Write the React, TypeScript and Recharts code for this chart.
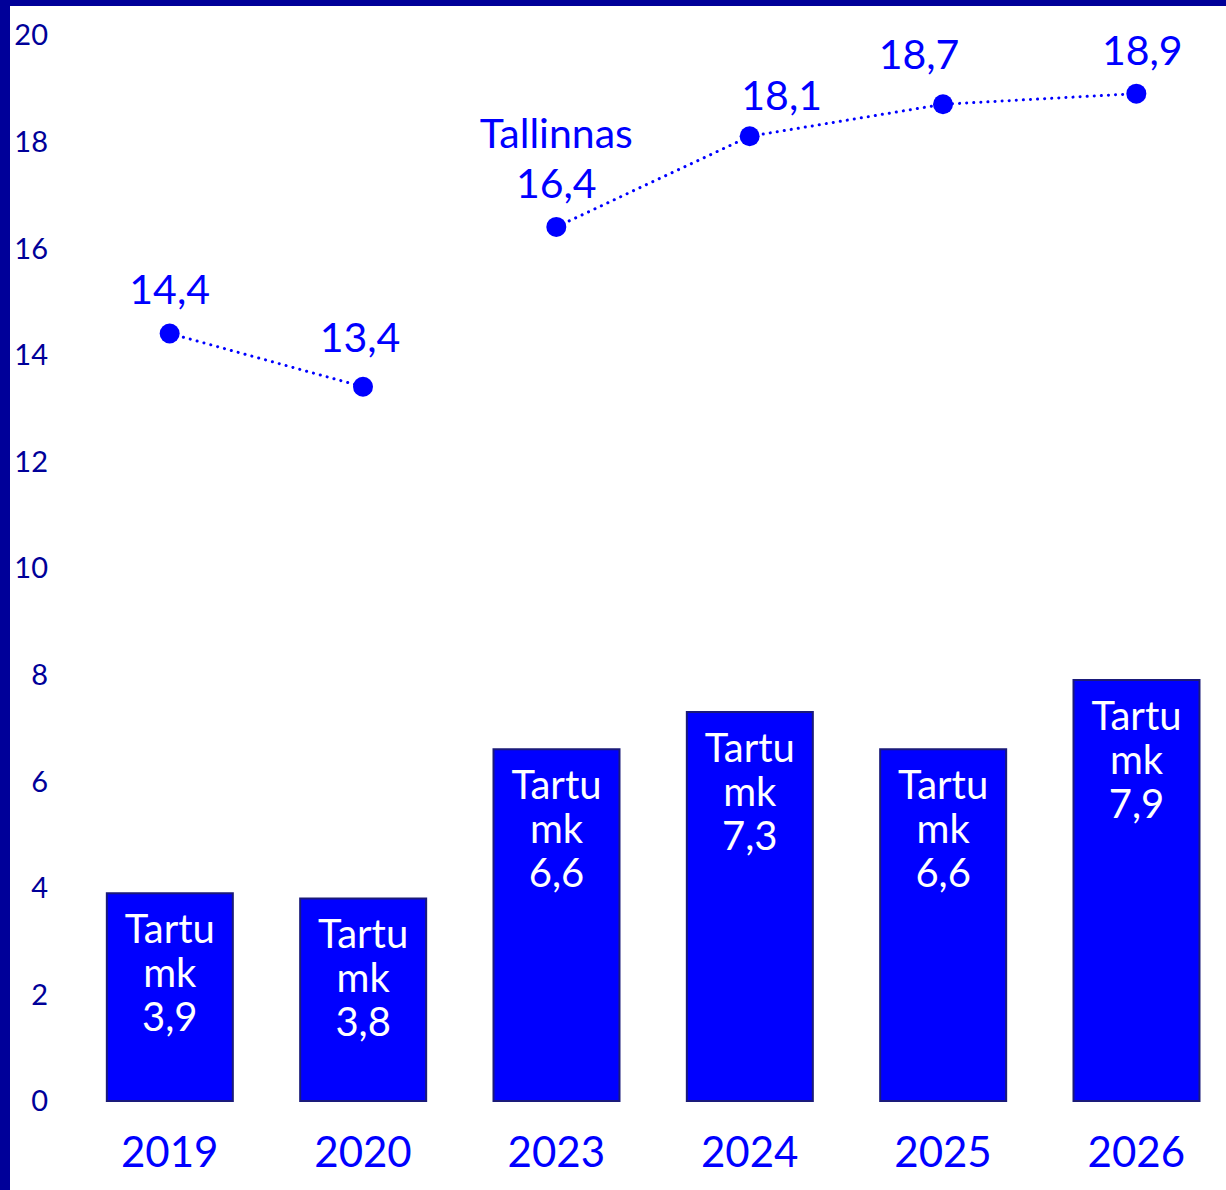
import { Bar, ComposedChart, LabelList, Line, XAxis, YAxis } from "recharts";

// Tartu (bars) vs Tallinn (dotted line), 2021–2022 missing so the line breaks
const years = ["2019", "2020", "2023", "2024", "2025", "2026"];
const tartu = [3.9, 3.8, 6.6, 7.3, 6.6, 7.9];
const tallinnEarly = [14.4, 13.4, null, null, null, null];
const tallinnLate = [null, null, 16.4, 18.1, 18.7, 18.9];
const yTicks = [0, 2, 4, 6, 8, 10, 12, 14, 16, 18, 20];

const data = years.map((year, i) => ({
  year,
  tartu: tartu[i],
  tallinnA: tallinnEarly[i],
  tallinnB: tallinnLate[i],
}));

const NAVY = "#000099";
const BLUE = "#0000ff";
const FONT = "Lato, 'Open Sans', sans-serif";

// hand nudges for the line labels, same order as years
const LABEL_NUDGE = [
  { dx: 0, dy: -29 },
  { dx: -3, dy: -35 },
  { dx: 0, dy: -29 },
  { dx: 32, dy: -26 },
  { dx: -24, dy: -35 },
  { dx: 6, dy: -29 },
];

const fmt = (v: number) => String(v).replace(".", ",");

function YTick({ x, y, payload }: any) {
  return (
    <text x={x} y={y} dy="0.36em" textAnchor="end" fill={NAVY} fontSize={29} fontFamily={FONT}>
      {payload.value}
    </text>
  );
}

function XTick({ x, y, payload }: any) {
  return (
    <text x={x} y={y + 66} textAnchor="middle" fill={BLUE} fontSize={42} fontFamily={FONT}>
      {payload.value}
    </text>
  );
}

function BarText({ x, y, width, value }: any) {
  if (value == null) return null;
  const cx = x + width / 2;
  return (
    <text textAnchor="middle" fill="#ffffff" fontSize={40} fontFamily={FONT}>
      <tspan x={cx} y={y + 50}>Tartu</tspan>
      <tspan x={cx} y={y + 94}>mk</tspan>
      <tspan x={cx} y={y + 138}>{fmt(value)}</tspan>
    </text>
  );
}

function LineText({ x, y, value, index }: any) {
  if (value == null) return null;
  const n = LABEL_NUDGE[index] ?? { dx: 0, dy: -30 };
  const cx = x + n.dx;
  return (
    <text textAnchor="middle" fill={BLUE} fontSize={41} fontFamily={FONT}>
      {years[index] === "2023" && (
        <tspan x={cx} y={y + n.dy - 50}>Tallinnas</tspan>
      )}
      <tspan x={cx} y={y + n.dy}>{fmt(value)}</tspan>
    </text>
  );
}

const dotStyle = { r: 10, fill: BLUE, stroke: BLUE, strokeWidth: 0 };

export default function App() {
  return (
    <div
      style={{
        position: "absolute",
        left: 0,
        top: 0,
        width: 1226,
        height: 1190,
        overflow: "hidden",
        background: "#ffffff",
      }}
    >
      <ComposedChart
        width={1240}
        height={1190}
        data={data}
        barCategoryGap="17.5%"
        margin={{ top: 35, right: 7, bottom: 0, left: 0 }}
      >
        <XAxis
          dataKey="year"
          axisLine={false}
          tickLine={false}
          tickSize={0}
          tickMargin={0}
          height={89}
          tick={<XTick />}
        />
        <YAxis
          domain={[0, 20]}
          ticks={yTicks}
          axisLine={false}
          tickLine={false}
          tickSize={0}
          tickMargin={25}
          width={73}
          tick={<YTick />}
        />
        <Bar dataKey="tartu" fill={BLUE} stroke="#1a1a7a" strokeWidth={2} isAnimationActive={false}>
          <LabelList dataKey="tartu" content={<BarText />} />
        </Bar>
        <Line
          dataKey="tallinnA"
          stroke={BLUE}
          strokeWidth={3}
          strokeDasharray="0.1 7"
          strokeLinecap="round"
          dot={dotStyle}
          activeDot={false}
          isAnimationActive={false}
        >
          <LabelList dataKey="tallinnA" content={<LineText />} />
        </Line>
        <Line
          dataKey="tallinnB"
          stroke={BLUE}
          strokeWidth={3}
          strokeDasharray="0.1 7"
          strokeLinecap="round"
          dot={dotStyle}
          activeDot={false}
          isAnimationActive={false}
        >
          <LabelList dataKey="tallinnB" content={<LineText />} />
        </Line>
      </ComposedChart>
      <div style={{ position: "absolute", left: 0, top: 0, width: 1226, height: 6, background: NAVY }} />
      <div style={{ position: "absolute", left: 0, top: 0, width: 10, height: 1190, background: NAVY }} />
    </div>
  );
}
